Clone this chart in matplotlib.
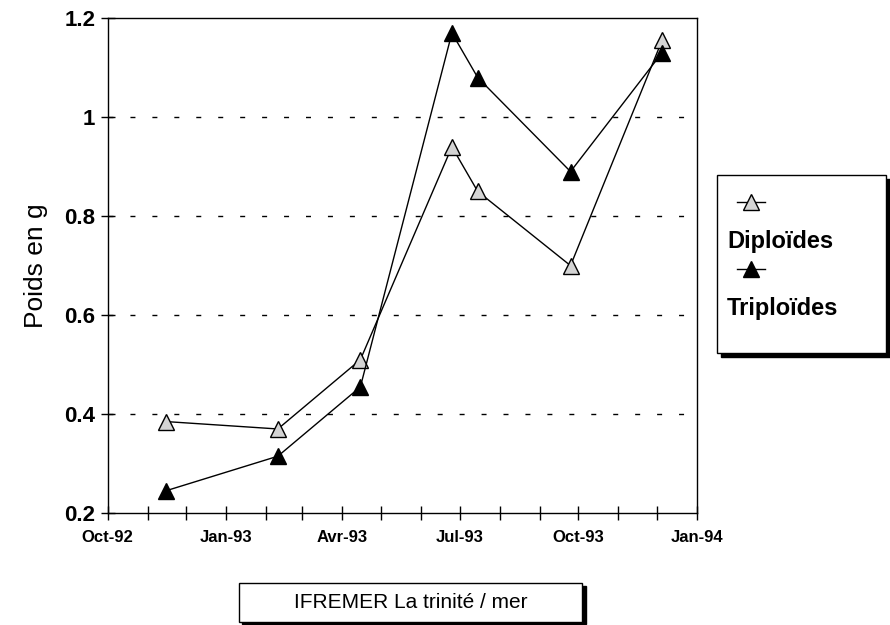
import numpy as np
import pandas as pd
import matplotlib
matplotlib.use("Agg")
import matplotlib.pyplot as plt
from matplotlib.patches import Rectangle
from matplotlib.lines import Line2D

plt.rcParams["font.family"] = ["Liberation Sans", "DejaVu Sans"]

# Data
dates = pd.to_datetime(["1992-11-15", "1993-02-10", "1993-04-15", "1993-06-25",
                        "1993-07-15", "1993-09-25", "1993-12-05"])
diploides = [0.385, 0.37, 0.51, 0.94, 0.85, 0.70, 1.155]
triploides = [0.245, 0.315, 0.455, 1.17, 1.08, 0.89, 1.13]

x_ticks = pd.date_range("1992-10-01", "1994-01-01", freq="MS")
x_labels = ["Oct-92", "Jan-93", "Avr-93", "Jul-93", "Oct-93", "Jan-94"]
y_ticks = [0.2, 0.4, 0.6, 0.8, 1, 1.2]
y_grid = [0.4, 0.6, 0.8, 1.0]

fig = plt.figure(figsize=(8.9, 6.25), dpi=100)
ax = fig.add_axes([0.121, 0.179, 0.662, 0.792])

ax.plot(dates, diploides, color="black", lw=1, marker="^", ms=11,
        mfc="#d4d4d4", mec="black", mew=1, zorder=3)
ax.plot(dates, triploides, color="black", lw=1, marker="^", ms=11,
        mfc="black", mec="black", zorder=3)

for g in y_grid:
    ax.axhline(g, color="black", lw=1, ls=(0, (3.6, 12.2)), zorder=1)

ax.set_xlim(x_ticks[0], x_ticks[-1])
ax.set_ylim(0.2, 1.2)
ax.set_xticks(x_ticks)
ax.set_xticklabels([x_labels[i // 3] if i % 3 == 0 else "" for i in range(len(x_ticks))],
                   fontsize=12, fontweight="bold")
ax.set_yticks(y_ticks)
ax.set_yticklabels([f"{v:g}" for v in y_ticks], fontsize=16, fontweight="bold")
ax.tick_params(axis="both", direction="inout", length=10, width=1, pad=7)
ax.tick_params(axis="y", pad=4)
for s in ax.spines.values():
    s.set_linewidth(1)
ax.set_ylabel("Poids en g", fontsize=19, labelpad=12)

# legend box with shadow
lx, ly, lw_, lh = 0.806, 0.435, 0.190, 0.285
fig.add_artist(Rectangle((lx + 0.004, ly - 0.006), lw_, lh, transform=fig.transFigure,
                         facecolor="black", edgecolor="black"))
fig.add_artist(Rectangle((lx, ly), lw_, lh, transform=fig.transFigure,
                         facecolor="white", edgecolor="black", lw=1))
for i, (name, fc) in enumerate([("Diploïdes", "#d4d4d4"), ("Triploïdes", "black")]):
    yh = ly + lh - 0.043 - i * 0.107
    fig.add_artist(Line2D([lx + 0.022, lx + 0.054], [yh, yh], transform=fig.transFigure,
                          color="black", lw=1))
    fig.add_artist(Line2D([lx + 0.038], [yh], transform=fig.transFigure,
                          marker="^", ms=11, mfc=fc, mec="black", ls="none"))
    fig.text(lx + 0.011, yh - 0.063, name, fontsize=17, fontweight="bold",
             va="center", ha="left")

# caption box with shadow
cx, cy, cw, ch = 0.268, 0.005, 0.386, 0.062
fig.add_artist(Rectangle((cx + 0.004, cy - 0.004), cw, ch, transform=fig.transFigure,
                         facecolor="black", edgecolor="black"))
fig.add_artist(Rectangle((cx, cy), cw, ch, transform=fig.transFigure,
                         facecolor="white", edgecolor="black", lw=1))
fig.text(cx + cw / 2, cy + ch / 2, "IFREMER La trinité / mer", fontsize=15,
         ha="center", va="center")

fig.savefig("out.png", dpi=100)
